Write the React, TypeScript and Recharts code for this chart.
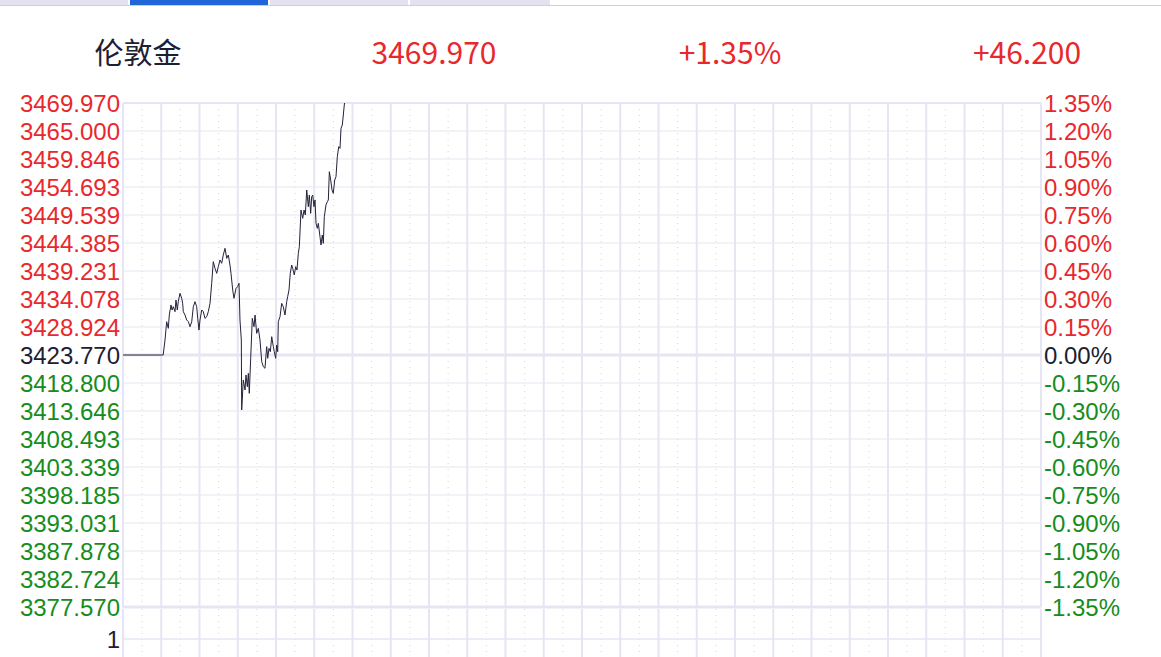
import { LineChart, Line, XAxis, YAxis, CartesianGrid, ReferenceLine } from "recharts";

// minutes since session open, and the traded price at that minute
const times = [
  0, 63, 65.9, 68.5, 71.1, 72.6, 75.3, 76.9, 78.9, 81.6, 83.1, 85.2, 86.7, 89.4, 92.1, 93.6, 94.6, 97.3,
  99.9, 102.5, 105.1, 107.8, 110.3, 112.9, 115.6, 117.2, 119.2, 120.8, 123.5, 126.0, 128.6, 131.3, 133.8,
  136.5, 139.1, 141.6, 144.3, 147.0, 149.5, 152.2, 154.8, 157.3, 160.0, 162.7, 165.2, 167.8, 169.4, 172.1,
  174.1, 177.3, 179.9, 182.0, 183.5, 185.6, 186.2, 188.7, 191.4, 192.9, 195.0, 196.6, 198.1, 200.3, 202.8,
  205.5, 207.1, 209.7, 212.3, 214.9, 217.6, 220.1, 222.7, 225.4, 227.0, 229.0, 231.1, 233.3, 235.8, 237.3,
  239.5, 241.1, 242.7, 243.6, 246.3, 248.9, 251.4, 254.1, 256.8, 258.3, 260.4, 262.4, 264.6, 266.2, 268.7,
  270.9, 272.9, 275.0, 276.6, 279.2, 281.9, 284.0, 286.0, 288.2, 290.7, 292.3, 294.4, 296.0, 297.6, 299.6,
  301.2, 302.8, 304.8, 306.4, 309.0, 310.6, 312.6, 314.2, 315.8, 318.4, 320.5, 322.1, 323.7, 325.8, 327.9,
  329.9, 332.1, 334.1, 336.2, 338.4, 340.4, 342.0, 344.0, 345.6, 347.1, 347.7,
];

const prices = [
  3423.77, 3423.77, 3426.52, 3429.87, 3428.66, 3431.1, 3432.94, 3432.02, 3432.63, 3431.71, 3433.85, 3432.02,
  3433.55, 3435.08, 3434.16, 3433.24, 3431.71, 3431.1, 3430.19, 3429.88, 3428.96, 3429.88, 3432.63, 3433.55,
  3432.63, 3430.49, 3428.35, 3430.19, 3432.02, 3431.71, 3430.49, 3430.8, 3431.71, 3433.24, 3436.91, 3440.88,
  3439.66, 3438.74, 3439.96, 3441.19, 3440.58, 3442.1, 3443.33, 3441.49, 3442.1, 3440.27, 3438.74, 3435.69,
  3434.16, 3435.99, 3436.3, 3436.91, 3430.19, 3426.52, 3413.69, 3419.19, 3417.35, 3420.1, 3417.96, 3420.41,
  3416.74, 3423.16, 3430.49, 3428.96, 3431.1, 3427.74, 3428.66, 3426.52, 3422.55, 3421.63, 3421.33, 3425.3,
  3423.16, 3424.99, 3424.38, 3427.13, 3425.3, 3424.38, 3423.16, 3425.6, 3424.38, 3429.87, 3430.8, 3433.24,
  3432.63, 3431.1, 3433.55, 3434.46, 3435.69, 3438.74, 3440.27, 3439.66, 3438.44, 3439.96, 3439.35, 3442.41,
  3443.63, 3450.35, 3448.83, 3450.35, 3449.44, 3454.02, 3450.96, 3453.1, 3449.74, 3452.8, 3453.1, 3450.96,
  3452.19, 3447.91, 3446.99, 3447.91, 3445.46, 3443.94, 3445.77, 3444.24, 3449.13, 3451.27, 3451.88, 3452.19,
  3457.38, 3455.85, 3454.02, 3453.41, 3455.85, 3456.46, 3460.13, 3461.96, 3461.66, 3465.33, 3465.94, 3467.77,
  3469.6, 3469.97,
];

const priceLabels = [
  "3469.970", "3465.000", "3459.846", "3454.693", "3449.539", "3444.385", "3439.231", "3434.078", "3428.924",
  "3423.770", "3418.800", "3413.646", "3408.493", "3403.339", "3398.185", "3393.031", "3387.878", "3382.724",
  "3377.570",
];

const percentLabels = [
  "1.35%", "1.20%", "1.05%", "0.90%", "0.75%", "0.60%", "0.45%", "0.30%", "0.15%", "0.00%", "-0.15%",
  "-0.30%", "-0.45%", "-0.60%", "-0.75%", "-0.90%", "-1.05%", "-1.20%", "-1.35%",
];

const volTicks = [1];
const volDomain = [0, 2];

const hourTicks = Array.from({ length: 25 }, (_, i) => i * 60);
const halfHourTicks = Array.from({ length: 24 }, (_, i) => i * 60 + 30);

const headerLabels = ["伦敦金", "3469.970", "+1.35%", "+46.200"];

const prevClose = 3423.77;
const high = 3469.97;
const low = 3377.57;
const step = (high - low) / (priceLabels.length - 1);
const yTicks = priceLabels.map((_, i) => high - i * step);
const centerIndex = 9;

const data = times.map((t, i) => ({ t, p: prices[i] }));
// the volume pane holds no visible marks, only its frame
const volData = [
  { t: 0, v: null },
  { t: 1440, v: null },
];

const RED = "#e8282d";
const GREEN = "#168c1c";
const DARK = "#1c2033";
const GRID = "#e7e5f3";
const AXIS_FONT = "'Liberation Sans', Arial, sans-serif";

function tickColor(i: number) {
  if (i < centerIndex) return RED;
  if (i === centerIndex) return DARK;
  return GREEN;
}

function PriceTick(props: any) {
  const { x, y, payload, textAnchor, labels } = props;
  const i = yTicks.findIndex((v) => Math.abs(v - payload.value) < 1e-6);
  if (i < 0) return null;
  return (
    <text x={x} y={y} dy="0.36em" textAnchor={textAnchor} fill={tickColor(i)} fontSize={24} fontFamily={AXIS_FONT}>
      {labels[i]}
    </text>
  );
}

function VolTick(props: any) {
  const { x, y, payload, textAnchor } = props;
  return (
    <text x={x} y={y} dy="0.36em" textAnchor={textAnchor} fill={DARK} fontSize={24} fontFamily={AXIS_FONT}>
      {payload.value}
    </text>
  );
}

const tabs = [
  { left: 0, width: 128, active: false },
  { left: 130, width: 138, active: true },
  { left: 270, width: 138, active: false },
  { left: 410, width: 140, active: false },
];

export default function App() {
  const headerX = [138, 434, 730, 1027];
  return (
    <div style={{ position: "absolute", left: 0, top: 0, width: 1161, height: 657, overflow: "hidden", background: "#fff" }}>
      {tabs.map((tb, i) => (
        <div
          key={i}
          style={{
            position: "absolute",
            top: 0,
            left: tb.left,
            width: tb.width,
            height: 5,
            background: tb.active ? "#2166d9" : "#e4e2f0",
          }}
        />
      ))}
      <div style={{ position: "absolute", top: 5, left: 0, width: 1161, height: 1, background: "#cfcde2" }} />

      <svg width={1161} height={90} style={{ position: "absolute", left: 0, top: 0 }}>
        {headerLabels.map((s, i) => (
          <text
            key={s}
            x={headerX[i]}
            y={64}
            textAnchor="middle"
            fill={i === 0 ? DARK : RED}
            fontSize={i === 0 ? 29 : 30}
            fontFamily="'Noto Sans CJK SC', 'Noto Sans', sans-serif"
          >
            {s}
          </text>
        ))}
      </svg>

      <div style={{ position: "absolute", left: 0, top: 0 }}>
        <LineChart width={1161} height={657} data={data} margin={{ top: 103, right: 0, bottom: 50, left: 0 }}>
          <XAxis xAxisId="hour" dataKey="t" type="number" domain={[0, 1440]} ticks={hourTicks} hide />
          <XAxis xAxisId="half" dataKey="t" type="number" domain={[0, 1440]} ticks={halfHourTicks} hide />
          <YAxis
            yAxisId="left"
            orientation="left"
            width={123}
            domain={[low, high]}
            ticks={yTicks}
            interval={0}
            allowDataOverflow
            axisLine={false}
            tickLine={false}
            tickSize={0}
            tickMargin={3}
            tick={(p: any) => <PriceTick {...p} labels={priceLabels} />}
          />
          <YAxis
            yAxisId="right"
            orientation="right"
            width={120}
            domain={[low, high]}
            ticks={yTicks}
            interval={0}
            allowDataOverflow
            axisLine={false}
            tickLine={false}
            tickSize={0}
            tickMargin={3}
            tick={(p: any) => <PriceTick {...p} labels={percentLabels} />}
          />
          <CartesianGrid xAxisId="half" yAxisId="left" horizontal={false} stroke="#d6d6de" strokeDasharray="1 5" />
          <CartesianGrid xAxisId="hour" yAxisId="left" horizontal={false} stroke={GRID} strokeWidth={2} />
          <CartesianGrid xAxisId="hour" yAxisId="left" vertical={false} stroke={GRID} strokeWidth={1} />
          <ReferenceLine xAxisId="hour" yAxisId="left" y={high} stroke={GRID} strokeWidth={2} />
          <ReferenceLine xAxisId="hour" yAxisId="left" y={prevClose} stroke={GRID} strokeWidth={3} />
          <ReferenceLine xAxisId="hour" yAxisId="left" y={low} stroke={GRID} strokeWidth={3} />
          <Line
            xAxisId="hour"
            yAxisId="left"
            type="linear"
            dataKey="p"
            stroke="#22223a"
            strokeWidth={1}
            dot={false}
            activeDot={false}
            isAnimationActive={false}
          />
        </LineChart>
      </div>

      <div style={{ position: "absolute", left: 0, top: 607 }}>
        <LineChart width={1161} height={70} data={volData} margin={{ top: 2, right: 0, bottom: 8, left: 0 }}>
          <XAxis xAxisId="hour" dataKey="t" type="number" domain={[0, 1440]} ticks={hourTicks} hide />
          <XAxis xAxisId="half" dataKey="t" type="number" domain={[0, 1440]} ticks={halfHourTicks} hide />
          <YAxis
            yAxisId="vol"
            type="number"
            width={123}
            domain={volDomain}
            ticks={volTicks}
            interval={0}
            allowDataOverflow
            axisLine={false}
            tickLine={false}
            tickSize={0}
            tickMargin={3}
            tick={(p: any) => <VolTick {...p} />}
          />
          <YAxis
            yAxisId="volR"
            orientation="right"
            type="number"
            width={120}
            domain={volDomain}
            allowDataOverflow
            tick={false}
            axisLine={false}
            tickLine={false}
          />
          <CartesianGrid xAxisId="half" yAxisId="vol" horizontal={false} stroke="#d6d6de" strokeDasharray="1 5" />
          <CartesianGrid xAxisId="hour" yAxisId="vol" horizontal={false} stroke={GRID} strokeWidth={2} />
          <ReferenceLine xAxisId="hour" yAxisId="vol" y={volTicks[0]} stroke={GRID} strokeWidth={1.5} />
          <Line
            xAxisId="hour"
            yAxisId="vol"
            dataKey="v"
            stroke="none"
            dot={false}
            activeDot={false}
            isAnimationActive={false}
          />
        </LineChart>
      </div>
    </div>
  );
}
